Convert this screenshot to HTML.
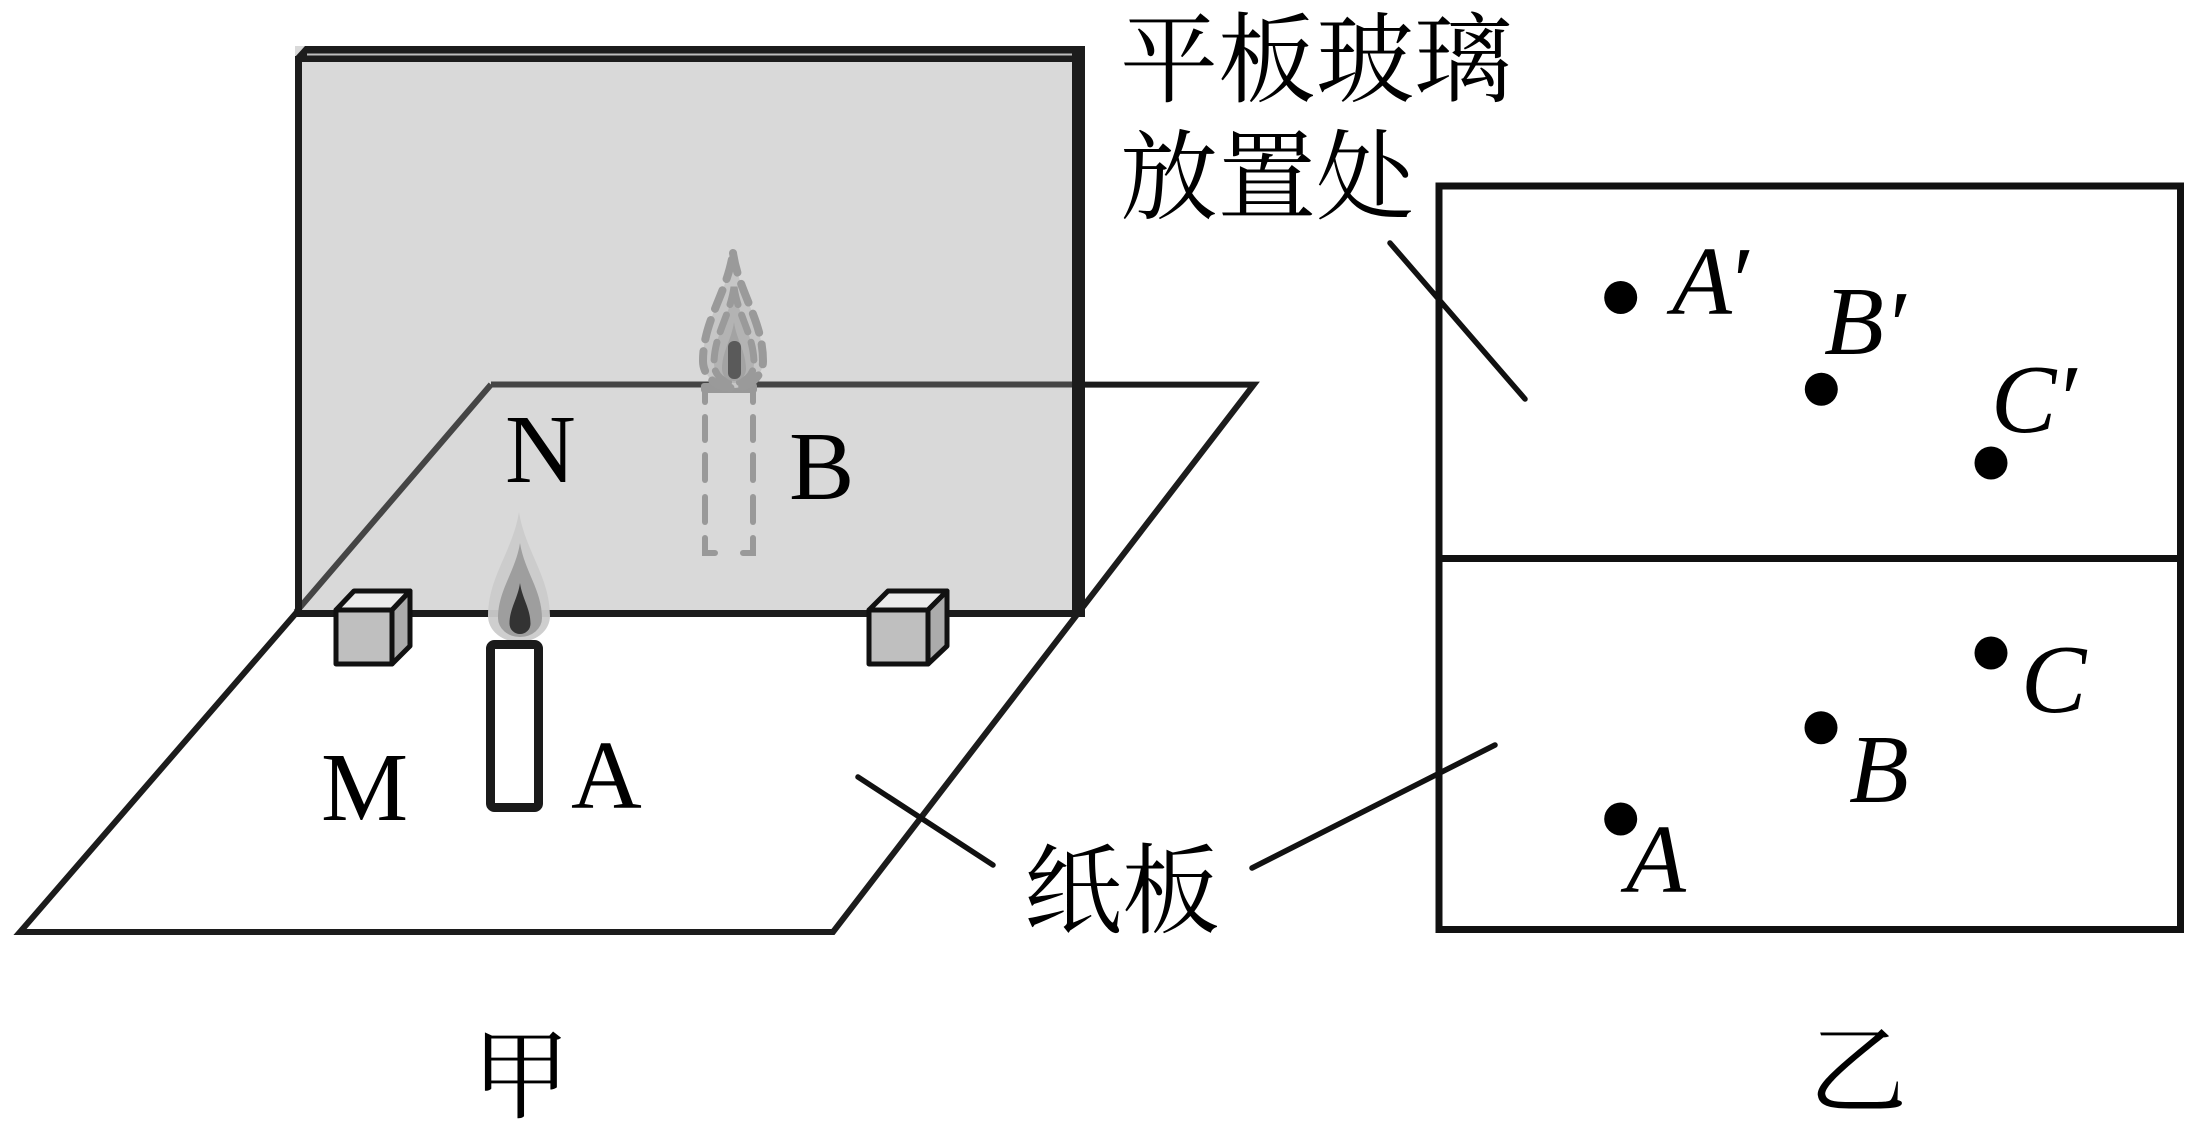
<!DOCTYPE html>
<html>
<head>
<meta charset="utf-8">
<style>
html,body{margin:0;padding:0;background:#fff;}
svg{display:block;}
.lat{font-family:"Liberation Serif","DejaVu Serif",serif;fill:#000;}
.cjk{font-family:"Liberation Serif","Noto Serif CJK SC","Noto Sans CJK SC",serif;fill:#000;}
</style>
</head>
<body>
<svg width="2196" height="1128" viewBox="0 0 2196 1128" xmlns="http://www.w3.org/2000/svg">
<rect x="0" y="0" width="2196" height="1128" fill="#fff"/>

<!-- Glass fill -->
<rect x="295" y="46" width="790" height="571" fill="#d9d9d9"/>

<!-- Paper edges behind glass (dark gray) -->
<line x1="491" y1="384.5" x2="1075" y2="384.5" stroke="#454545" stroke-width="6"/>
<line x1="491" y1="384.5" x2="296" y2="612" stroke="#454545" stroke-width="6"/>

<!-- Glass borders -->
<polygon points="295,57 305,46 1085,46 1085,62 295,62" fill="#1c1c1c"/>
<rect x="307" y="53.5" width="766" height="2" fill="#bdbdbd"/>
<rect x="295" y="56" width="7" height="561" fill="#1c1c1c"/>
<rect x="1072" y="46" width="13" height="571" fill="#1c1c1c"/>
<rect x="295" y="610" width="790" height="7" fill="#1c1c1c"/>

<!-- Paper edges outside glass -->
<polyline points="297,612 20,932 833,932 1253.8,384.6 1085,384.6" fill="none" stroke="#1c1c1c" stroke-width="6" stroke-linejoin="miter" stroke-miterlimit="2.5"/>

<!-- Image candle (dashed) -->
<g stroke="#999" stroke-width="6" stroke-linecap="round" fill="none">
  <line x1="705" y1="390" x2="705" y2="402"/>
  <line x1="705" y1="417" x2="705" y2="440"/>
  <line x1="705" y1="455" x2="705" y2="480"/>
  <line x1="705" y1="497" x2="705" y2="522"/>
  <polyline points="705,538 705,553 715,553"/>
  <line x1="753" y1="390" x2="753" y2="402"/>
  <line x1="753" y1="417" x2="753" y2="440"/>
  <line x1="753" y1="455" x2="753" y2="480"/>
  <line x1="753" y1="497" x2="753" y2="522"/>
  <polyline points="753,538 753,553 743,553"/>
</g>
<rect x="701" y="383" width="56" height="10" rx="3" fill="#999"/>

<!-- Image flame (dashed) -->
<path d="M733 253 C739 293.5 763 320.5 763 361 A30 27 0 0 1 703 361 C703 320.5 727 293.5 733 253Z" fill="#c6c6c6" stroke="#9a9a9a" stroke-width="8" stroke-dasharray="20 12" stroke-linecap="round"/>
<path d="M734 287 C738 315.8 754 335 754 363.8 A20 19.2 0 0 1 714 363.8 C714 335 730 315.8 734 287Z" fill="#b3b3b3" stroke="#9a9a9a" stroke-width="7" stroke-dasharray="18 11" stroke-linecap="round"/>
<path d="M734 322 C736.4 339.7 746 351.5 746 369.2 A12 11.8 0 0 1 722 369.2 C722 351.5 731.6 339.7 734 322Z" fill="#a3a3a3"/>
<rect x="728" y="341" width="13" height="38" rx="6" fill="#5a5a5a"/>

<!-- Real flame -->
<path d="M519 512 C525.2 551 550 577 550 616 A31 26 0 0 1 488 616 C488 577 512.8 551 519 512Z" fill="#cbcbcb" opacity="0.95"/>
<path d="M520 543 C524.4 571.2 542 590 542 618.2 A22 18.8 0 0 1 498 618.2 C498 590 515.6 571.2 520 543Z" fill="#9e9e9e"/>
<path d="M520 583 C522.1 598.3 530.5 608.5 530.5 623.8 A10.5 10.2 0 0 1 509.5 623.8 C509.5 608.5 517.9 598.3 520 583Z" fill="#333"/>

<!-- Real candle -->
<rect x="490.5" y="644.5" width="48" height="163" rx="4" fill="#fff" stroke="#1a1a1a" stroke-width="9"/>

<!-- Cubes -->
<g stroke="#111" stroke-width="5" stroke-linejoin="round">
  <polygon points="336,610 392,610 392,664 336,664" fill="#bfbfbf"/>
  <polygon points="336,610 354,591 410,591 392,610" fill="#ebebeb"/>
  <polygon points="392,610 410,591 410,646 392,664" fill="#ababab"/>
  <polygon points="869,610 928,610 928,664 869,664" fill="#bfbfbf"/>
  <polygon points="869,610 888,591 947,591 928,610" fill="#ebebeb"/>
  <polygon points="928,610 947,591 947,646 928,664" fill="#ababab"/>
</g>

<!-- Left labels -->
<text class="lat" x="505" y="482" font-size="98">N</text>
<text class="lat" x="789" y="499" font-size="98">B</text>
<text class="lat" x="321" y="820" font-size="98">M</text>
<text class="lat" x="571" y="808" font-size="98">A</text>

<!-- Leader lines -->
<g stroke="#111" stroke-width="5.5" stroke-linecap="round">
  <line x1="858" y1="777" x2="993" y2="865"/>
  <line x1="1252" y1="868" x2="1495" y2="745"/>
  <line x1="1390" y1="243" x2="1525" y2="399"/>
</g>

<!-- CJK labels -->
<text class="cjk" x="1120" y="94" font-size="98">平板玻璃</text>
<text class="cjk" x="1120" y="211" font-size="98">放置处</text>
<text class="cjk" x="1024" y="925" font-size="98">纸板</text>
<text class="cjk" x="521" y="1110" font-size="98" text-anchor="middle">甲</text>
<text class="cjk" x="1858" y="1105" font-size="98" text-anchor="middle">乙</text>

<!-- Right box -->
<rect x="1439" y="186" width="741.5" height="743.5" fill="none" stroke="#111" stroke-width="7"/>
<line x1="1439" y1="558.5" x2="2180.5" y2="558.5" stroke="#111" stroke-width="7"/>

<!-- Dots -->
<g fill="#000">
  <circle cx="1620.7" cy="297.5" r="16.5"/>
  <circle cx="1821.3" cy="389.2" r="16.5"/>
  <circle cx="1991" cy="463" r="16.5"/>
  <circle cx="1991" cy="653" r="16.5"/>
  <circle cx="1821" cy="727.7" r="16.5"/>
  <circle cx="1620.7" cy="819" r="16.5"/>
</g>

<!-- Right labels -->
<g class="lat" font-size="98" font-style="italic">
  <text x="1672" y="314">A</text>
  <text x="1824" y="354">B</text>
  <text x="1991" y="432">C</text>
  <text x="2021" y="712">C</text>
  <text x="1849" y="802">B</text>
  <text x="1626" y="892">A</text>
</g>
<g class="lat" font-size="98">
  <text x="1733" y="314">′</text>
  <text x="1890" y="358">′</text>
  <text x="2061" y="432">′</text>
</g>
</svg>
</body>
</html>
